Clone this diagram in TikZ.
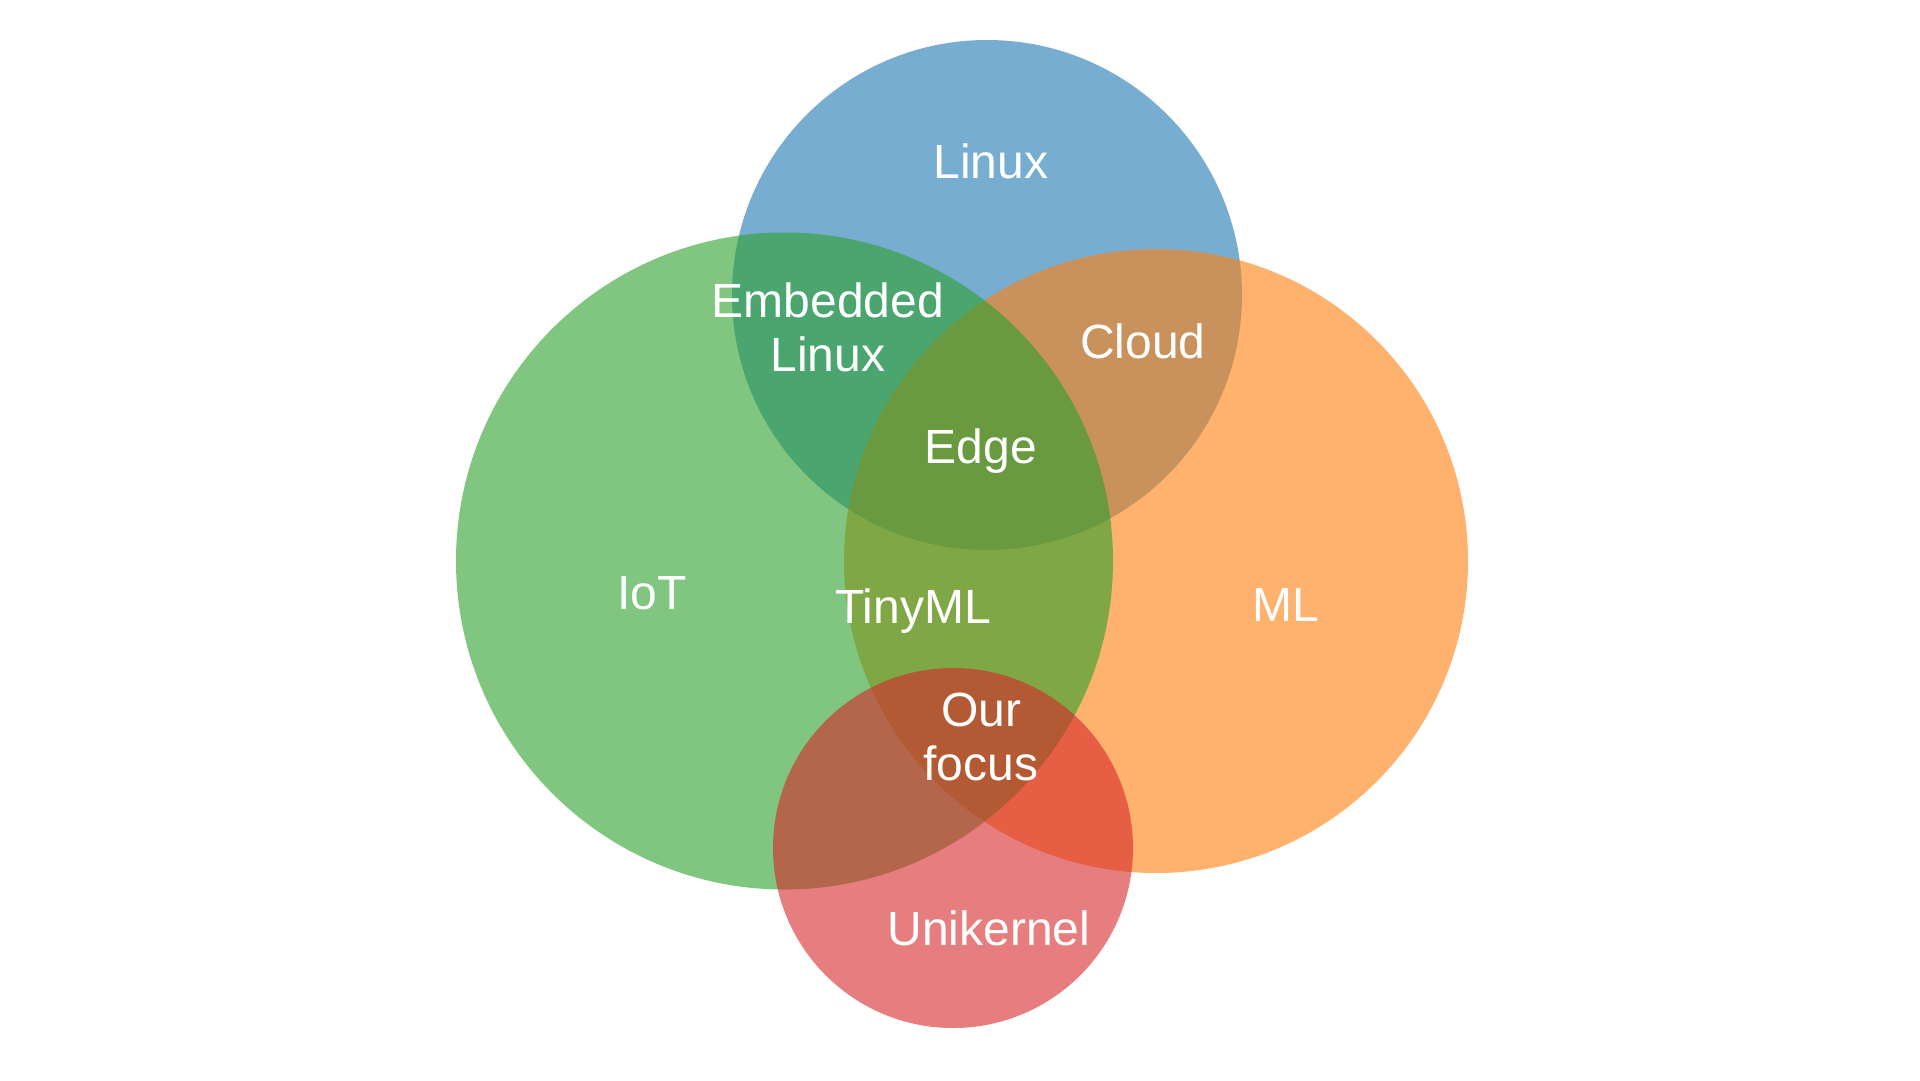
\documentclass[tikz,border=0pt]{standalone}
\usepackage{fontspec}
\setmainfont{Liberation Sans}
\definecolor{tabblue}{RGB}{31,119,180}
\definecolor{taborange}{RGB}{255,127,14}
\definecolor{tabgreen}{RGB}{44,160,44}
\definecolor{tabred}{RGB}{214,39,40}
\tikzset{
  setcircle/.style={fill opacity=0.6, draw=none},
  lbl/.style={text=white, inner sep=0pt, anchor=base, align=center,
    font=\fontsize{48}{54}\selectfont},
}
\begin{document}
\begin{tikzpicture}[x=1pt,y=-1pt]
\useasboundingbox (0,0) rectangle (1920,1080);
\fill[white] (0,0) rectangle (1920,1080);
% sets, drawn in order blue, orange, green, red
\fill[setcircle, tabblue]   (987,295)  circle[radius=255pt];
\fill[setcircle, taborange] (1156,561) circle[radius=312pt];
\fill[setcircle, tabgreen]  (784.5,561) circle[radius=328.5pt];
\fill[setcircle, tabred]    (953,848)  circle[radius=180pt];
% labels (multi-line labels are anchored at the last line's baseline)
\node[lbl] (linux) at (991,178) {Linux};
\node[lbl] (emb) at (828,371) {Embedded\\Linux};
\node[lbl] (cloud) at (1143,358) {Cloud};
\node[lbl] (edge) at (981,463) {Edge};
\node[lbl] (iot) at (652,609) {IoT};
\node[lbl] (tinyml) at (913,623) {TinyML};
\node[lbl] (ml) at (1286,621) {ML};
\node[lbl] (focus) at (981,780) {Our\\focus};
\node[lbl] (uni) at (989,945) {Unikernel};
\end{tikzpicture}
\end{document}
